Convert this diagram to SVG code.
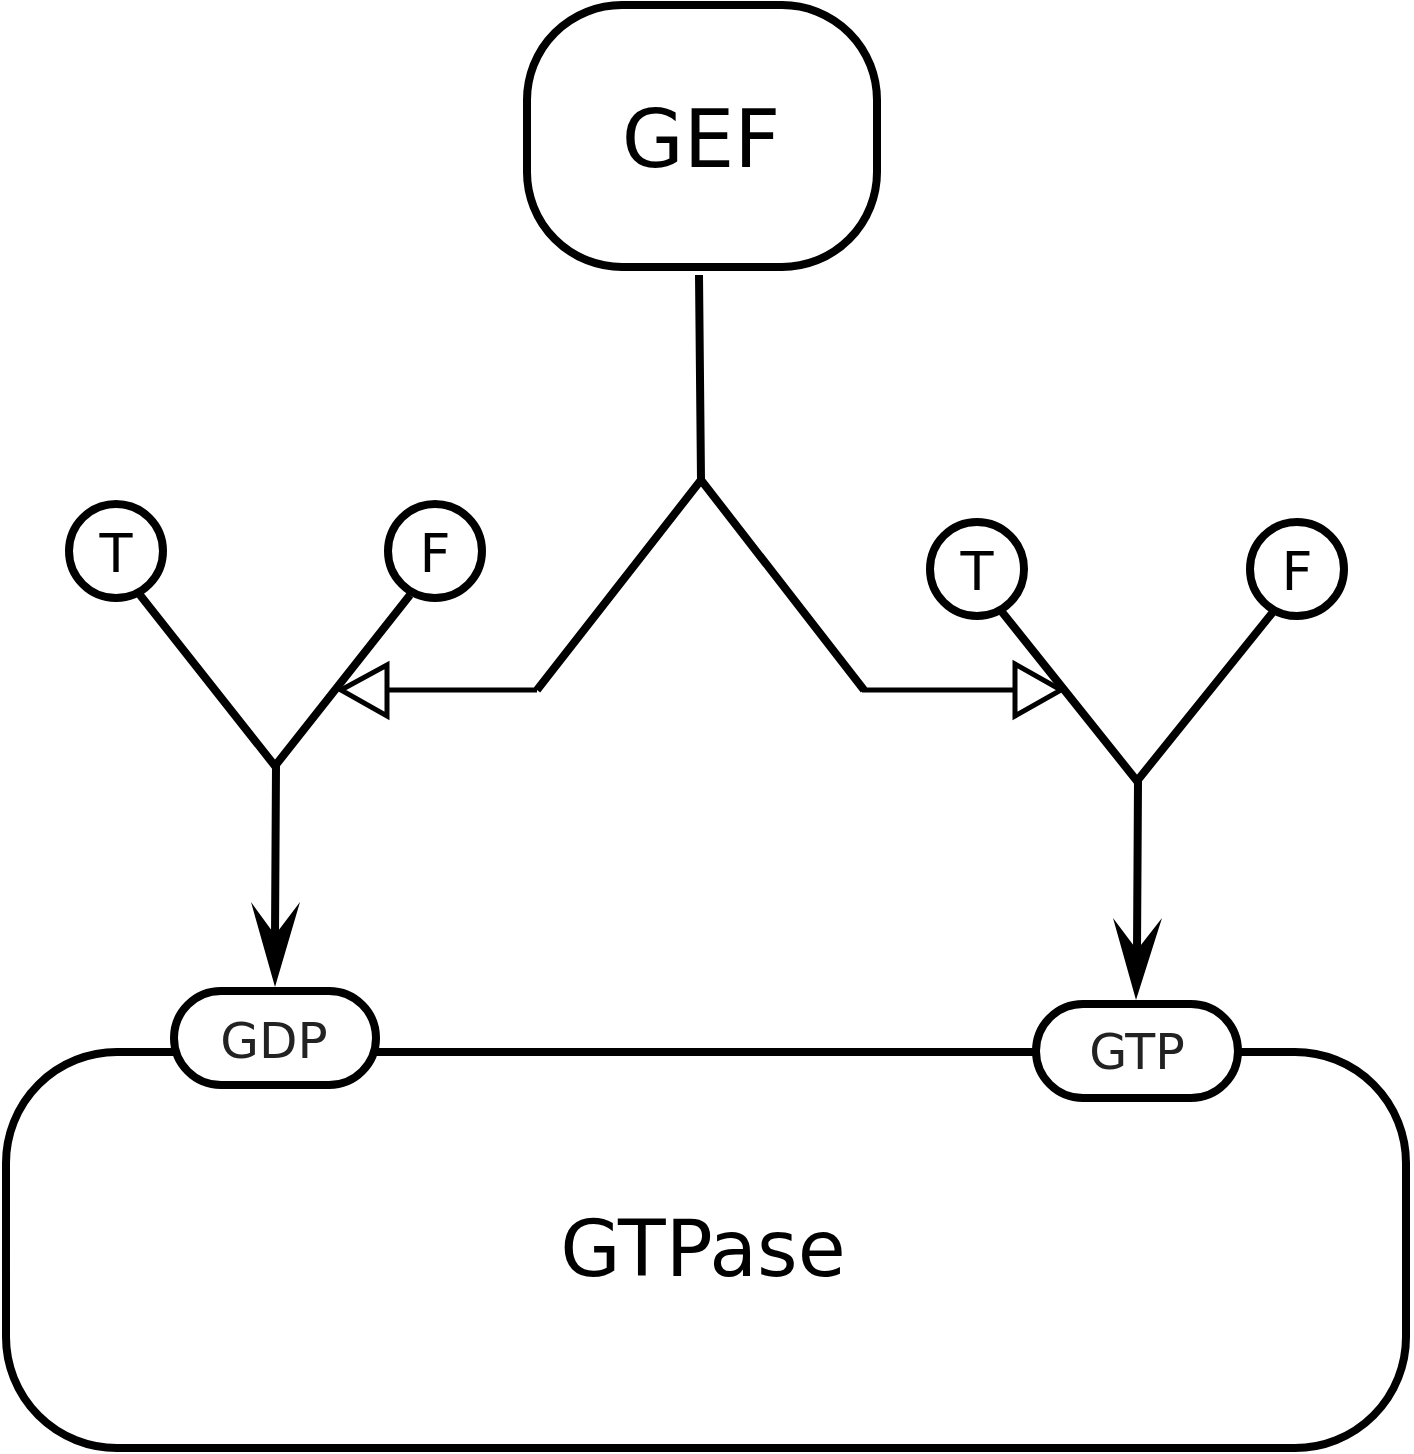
<svg xmlns="http://www.w3.org/2000/svg" width="1414" height="1454" viewBox="0 0 1414 1454">
<style>
.node{fill:#fff;stroke:#000;stroke-width:8}
.lbl{font-family:"DejaVu Sans",sans-serif;text-anchor:middle;fill:#000}
.sub{font-family:"DejaVu Sans",sans-serif;text-anchor:middle;fill:#222}
.edge{fill:none;stroke:#000;stroke-width:8}
.thin{fill:none;stroke:#000;stroke-width:5}
.open{fill:#fff;stroke:#000;stroke-width:5}
.head{fill:#000;stroke:none}
</style>
<rect width="1414" height="1454" fill="#fff"/>
<g id="gtpase">
<rect class="node" x="6" y="1052" width="1400" height="396" rx="111" ry="111"/>
<text class="lbl" x="703" y="1276" font-size="78">GTPase</text>
</g>
<g id="gef">
<rect class="node" x="527" y="5" width="350" height="262" rx="95" ry="95"/>
<text class="lbl" x="701" y="167" font-size="80">GEF</text>
</g>
<g id="connectors">
<path class="edge" d="M699,275 L701,480 M701,480 L537,690 M701,480 L864,690"/>
<line class="thin" x1="537" y1="690" x2="387" y2="690"/>
<polygon class="open" points="341,690 387,665 387,716"/>
<line class="thin" x1="862" y1="690" x2="1015" y2="690"/>
<polygon class="open" points="1061,690 1015,664 1015,716"/>
<path class="edge" d="M140,595 L275,766 L410,595 M276,766 L275,935"/>
<polygon class="head" points="275,987 251,902 275,935 300,902"/>
<path class="edge" d="M1002,612 L1137,781 L1273,612 M1138,781 L1137,950"/>
<polygon class="head" points="1136,1000 1113,918 1137,950 1162,918"/>
</g>
<g id="t1"><circle class="node" cx="116" cy="551" r="47"/><text class="lbl" x="116" y="572" font-size="54">T</text></g>
<g id="f1"><circle class="node" cx="435" cy="551" r="47"/><text class="lbl" x="435" y="572" font-size="54">F</text></g>
<g id="t2"><circle class="node" cx="977" cy="569" r="47"/><text class="lbl" x="977" y="590" font-size="54">T</text></g>
<g id="f2"><circle class="node" cx="1297" cy="569" r="47"/><text class="lbl" x="1297" y="590" font-size="54">F</text></g>
<g id="gdp">
<rect class="node" x="174" y="991" width="202" height="94" rx="47" ry="47"/>
<text class="sub" x="274" y="1058" font-size="50">GDP</text>
</g>
<g id="gtp">
<rect class="node" x="1036" y="1004" width="202" height="94" rx="47" ry="47"/>
<text class="sub" x="1137" y="1069" font-size="49">GTP</text>
</g>
</svg>
